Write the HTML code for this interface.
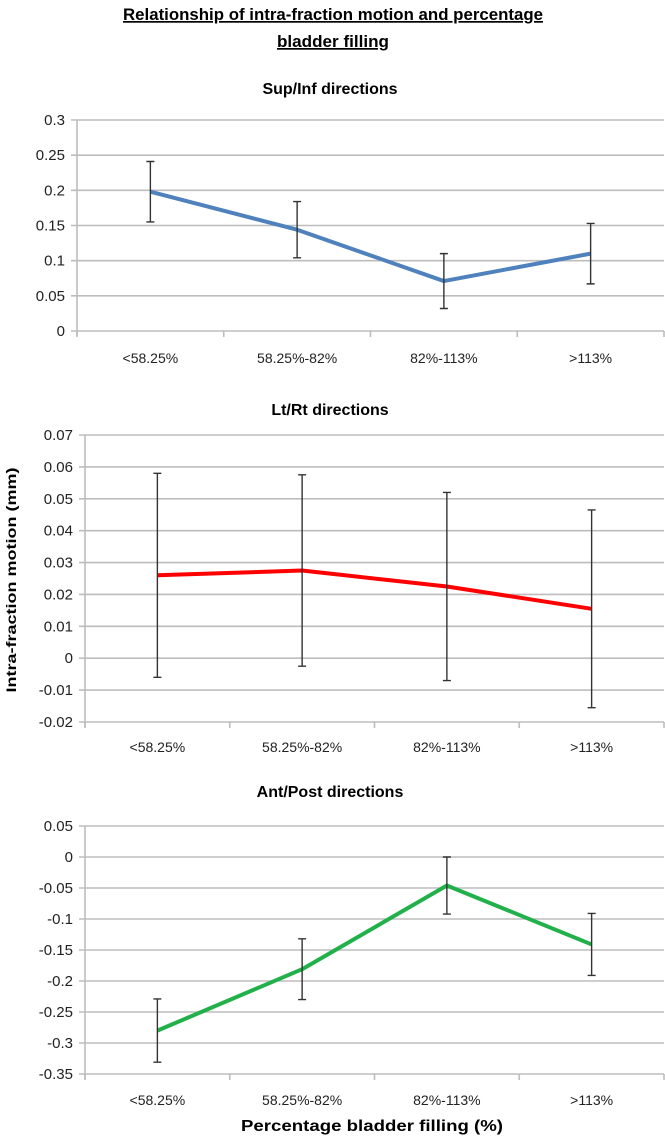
<!DOCTYPE html>
<html><head><meta charset="utf-8"><style>
body{margin:0;background:#fff;font-family:"Liberation Sans",sans-serif;}
svg text{font-family:"Liberation Sans",sans-serif;}
</style></head><body>
<svg id="c" width="665" height="1138" xmlns="http://www.w3.org/2000/svg">
<text x="333" y="20" text-anchor="middle" font-size="17" font-weight="bold" text-decoration="underline" textLength="420" lengthAdjust="spacingAndGlyphs">Relationship of intra-fraction  motion and percentage</text>
<text x="333" y="47" text-anchor="middle" font-size="17" font-weight="bold" text-decoration="underline" textLength="112" lengthAdjust="spacingAndGlyphs">bladder  filling</text>
<text x="16" y="580" text-anchor="middle" font-size="14" font-weight="bold" transform="rotate(-90 16 580)" textLength="225" lengthAdjust="spacingAndGlyphs">Intra-fraction  motion  (mm)</text>
<text x="372" y="1131" text-anchor="middle" font-size="16" font-weight="bold" textLength="262" lengthAdjust="spacingAndGlyphs">Percentage bladder  filling  (%)</text>
</svg>
<script>
const categories = ["<58.25%", "58.25%-82%", "82%-113%", ">113%"];
const supInfValues = [0.198, 0.144, 0.071, 0.110];
const supInfErr = [0.043, 0.040, 0.039, 0.043];
const supInfTicks = [0, 0.05, 0.1, 0.15, 0.2, 0.25, 0.3];
const supInfTickLabels = ["0", "0.05", "0.1", "0.15", "0.2", "0.25", "0.3"];
const ltRtValues = [0.026, 0.0275, 0.0225, 0.0155];
const ltRtErr = [0.032, 0.030, 0.0295, 0.031];
const ltRtTicks = [-0.02, -0.01, 0, 0.01, 0.02, 0.03, 0.04, 0.05, 0.06, 0.07];
const ltRtTickLabels = ["-0.02", "-0.01", "0", "0.01", "0.02", "0.03", "0.04", "0.05", "0.06", "0.07"];
const antPostValues = [-0.280, -0.181, -0.046, -0.141];
const antPostErr = [0.051, 0.049, 0.046, 0.050];
const antPostTicks = [-0.35, -0.3, -0.25, -0.2, -0.15, -0.1, -0.05, 0, 0.05];
const antPostTickLabels = ["-0.35", "-0.3", "-0.25", "-0.2", "-0.15", "-0.1", "-0.05", "0", "0.05"];

const NS = "http://www.w3.org/2000/svg";
const svg = document.getElementById("c");
function mk(tag, attrs){const e=document.createElementNS(NS,tag);for(const k in attrs)e.setAttribute(k,attrs[k]);svg.appendChild(e);return e;}

function panel(key, title, titleY, left, right, top, bottom, ticks, tickLabels, values, errs, color, catY){
  const min=ticks[0], max=ticks[ticks.length-1];
  const y=v=>bottom-(v-min)/(max-min)*(bottom-top);
  const step=(right-left)/categories.length;
  const x=i=>left+step*(i+0.5);
  const t=mk("text",{x:330,y:titleY,"text-anchor":"middle","font-size":16,"font-weight":"bold"});
  t.textContent=title;
  
  
  ticks.forEach((v,i)=>{
    const g=mk("line",{x1:left-6,x2:right,y1:y(v),y2:y(v),stroke:"#bdbdbd","stroke-width":1.6});
    
    
    const l=mk("text",{x:left-12,y:y(v)+5,"text-anchor":"end","font-size":15,fill:"#222"});
    l.textContent=tickLabels[i];
    
    
  });
  const ax=mk("line",{x1:left,x2:left,y1:top,y2:bottom+5,stroke:"#bdbdbd","stroke-width":1.6});
  
  
  for(let i=0;i<=categories.length;i++){
    const tk=mk("line",{x1:left+step*i,x2:left+step*i,y1:bottom,y2:bottom+6,stroke:"#bdbdbd","stroke-width":1.6});
    
    
  }
  categories.forEach((c,i)=>{
    const l=mk("text",{x:x(i),y:catY,"text-anchor":"middle","font-size":14,fill:"#222"});
    l.textContent=c;
    
    
  });
  const pts=values.map((v,i)=>x(i)+","+y(v)).join(" ");
  const pl=mk("polyline",{points:pts,fill:"none",stroke:color,"stroke-width":4,"stroke-linejoin":"round"});
  
  
  values.forEach((v,i)=>{
    const e=errs[i], cx=x(i);
    const g=mk("path",{d:`M${cx},${y(v+e)}V${y(v-e)}M${cx-4},${y(v+e)}H${cx+4}M${cx-4},${y(v-e)}H${cx+4}`,stroke:"#333","stroke-width":1.4,fill:"none"});
    
    
  });
}
panel("sup-inf","Sup/Inf directions",94,77,664,120,331,supInfTicks,supInfTickLabels,supInfValues,supInfErr,"#4f81bd",363);
panel("lt-rt","Lt/Rt directions",415,85,664,435,722,ltRtTicks,ltRtTickLabels,ltRtValues,ltRtErr,"#ff0000",752);
panel("ant-post","Ant/Post directions",797,85,664,826,1074,antPostTicks,antPostTickLabels,antPostValues,antPostErr,"#22b04b",1105);
</script>
</body></html>
